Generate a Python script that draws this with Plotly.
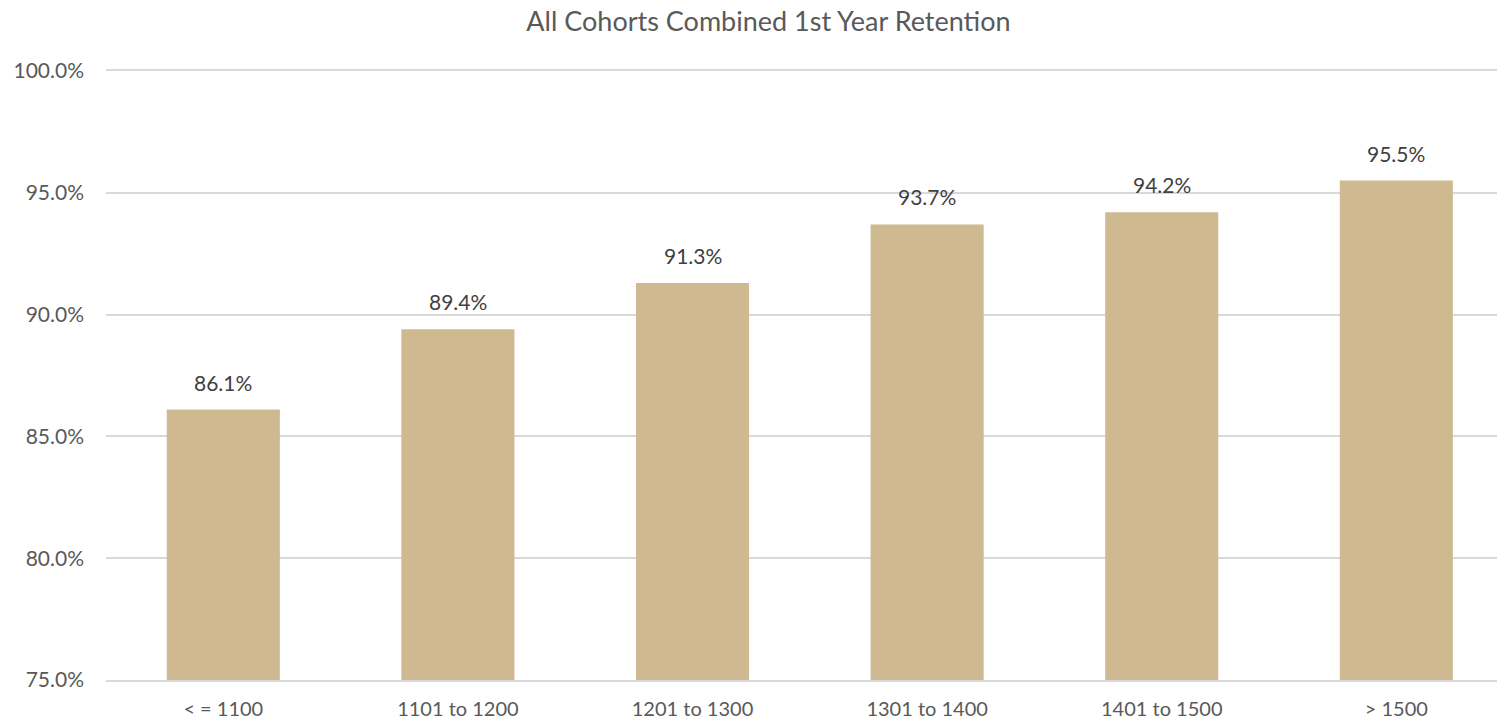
import plotly.graph_objects as go

categories = ["< = 1100", "1101 to 1200", "1201 to 1300", "1301 to 1400", "1401 to 1500", "> 1500"]
retention = [0.861, 0.894, 0.913, 0.937, 0.942, 0.955]
y_ticks = [0.75, 0.80, 0.85, 0.90, 0.95, 1.00]

FONT = "Lato, Calibri, Carlito, sans-serif"
TXT = "#595959"

fig = go.Figure()
fig.add_trace(go.Bar(
    x=categories, y=retention, marker=dict(color="#CFB991", line=dict(width=0)),
    width=0.482, hoverinfo="skip",
))
for c, v in zip(categories, retention):
    fig.add_annotation(x=c, y=v, text=f"{v*100:.1f}%", showarrow=False,
                       yanchor="bottom", yshift=13,
                       font=dict(family=FONT, size=21, color="#404040"))

fig.update_layout(
    width=1497, height=721,
    margin=dict(l=106, r=0, t=71, b=41, autoexpand=False),
    paper_bgcolor="white", plot_bgcolor="white",
    title=dict(text="All Cohorts Combined 1st Year Retention", x=768.5 / 1497, xanchor="center",
               xref="container",
               y=1 - 22 / 721, yanchor="middle",
               font=dict(family=FONT, size=27, color=TXT)),
    showlegend=False,
    xaxis=dict(tickfont=dict(family=FONT, size=20, color=TXT), showgrid=False,
               range=[-0.5, 5.429],
               showline=True, mirror=True, linecolor="#D9D9D9", linewidth=1.5,
               ticks="", ticklabelstandoff=10, automargin=False),
    yaxis=dict(range=[0.75, 1.0], tickvals=y_ticks, tickformat=".1%",
               tickfont=dict(family=FONT, size=21, color=TXT),
               gridcolor="#D9D9D9", gridwidth=1.5, zeroline=False, showline=False,
               ticks="", ticklabelstandoff=21, automargin=False),
)
fig.write_html("out.html", config={"displayModeBar": False},
               post_script="document.body.style.margin='0';")
